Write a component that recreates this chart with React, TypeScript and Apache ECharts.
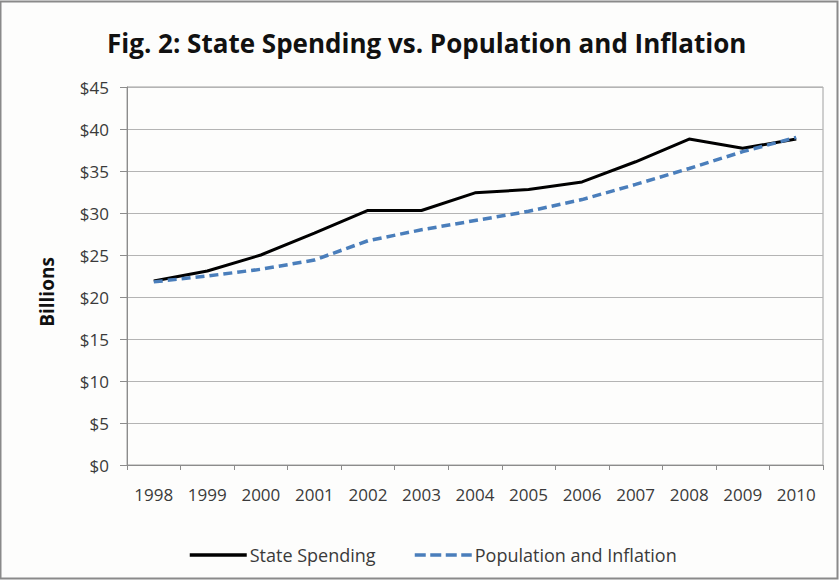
import React, { useEffect, useRef } from "react";
import * as echarts from "echarts";

const years = ["1998", "1999", "2000", "2001", "2002", "2003", "2004", "2005", "2006", "2007", "2008", "2009", "2010"];
const stateSpending = [21.9, 23.1, 25.0, 27.6, 30.3, 30.3, 32.4, 32.8, 33.7, 36.1, 38.8, 37.7, 38.8];
const popInflation = [21.8, 22.5, 23.3, 24.4, 26.7, 28.0, 29.1, 30.2, 31.6, 33.4, 35.3, 37.3, 39.0];
const seriesNames = ["State Spending", "Population and Inflation"];
const titleText = "Fig. 2: State Spending vs. Population and Inflation";
const yAxisTitle = "Billions";

const FONT = "'Open Sans', 'Noto Sans', sans-serif";
const TEXT = "#3a3a3a";

export default function App() {
  const ref = useRef<HTMLDivElement>(null);
  useEffect(() => {
    document.body.style.margin = "0";
    const chart = echarts.init(ref.current!, undefined, { renderer: "svg" });
    const legendBase = {
      top: 541,
      itemWidth: 57,
      itemHeight: 14,
      itemStyle: { opacity: 0, borderWidth: 0 },
      textStyle: { fontFamily: FONT, fontSize: 18, color: TEXT, padding: [0, 0, 0, -2] },
    };
    chart.setOption({
      animation: false,
      backgroundColor: "#fdfdfc",
      textStyle: { fontFamily: FONT },
      title: {
        text: titleText,
        left: 102,
        top: 25,
        textStyle: { fontFamily: FONT, fontSize: 26, fontWeight: "bold", color: "#111" },
      },
      legend: [
        { ...legendBase, left: 183, lineStyle: { width: 3.5 }, data: [seriesNames[0]] },
        { ...legendBase, left: 408, lineStyle: { width: 3.5, type: [11, 4.5] }, data: [seriesNames[1]] },
      ],
      grid: {
        left: 127,
        right: 16,
        top: 87,
        bottom: 115,
        show: true,
        borderColor: "#a0a0a0",
        borderWidth: 1,
      },
      xAxis: {
        type: "category",
        data: years,
        boundaryGap: true,
        axisLine: { lineStyle: { color: "#8c8c8c" } },
        axisTick: { show: true, length: 5, inside: false, lineStyle: { color: "#8c8c8c" } },
        axisLabel: { fontFamily: FONT, fontSize: 17, color: TEXT, margin: 21 },
      },
      yAxis: {
        type: "value",
        min: 0,
        max: 45,
        interval: 5,
        axisLine: { show: true, lineStyle: { color: "#8c8c8c" } },
        axisTick: { show: true, length: 7, lineStyle: { color: "#8c8c8c" } },
        axisLabel: { fontFamily: FONT, fontSize: 17, color: TEXT, margin: 18, formatter: "${value}" },
        splitLine: { show: true, lineStyle: { color: "#b4b4b4", width: 1 } },
      },
      graphic: [
        {
          type: "rect",
          shape: { x: 0.5, y: 1.5, width: 837, height: 577 },
          style: { fill: "none", stroke: "#8a8a8a", lineWidth: 2 },
          silent: true,
        },
        {
          type: "text",
          x: 47,
          y: 292,
          rotation: Math.PI / 2,
          style: {
            text: yAxisTitle,
            fontFamily: FONT,
            fontSize: 19,
            fontWeight: "bold",
            fill: "#111",
            align: "center",
            verticalAlign: "middle",
          },
        },
      ],
      series: [
        {
          name: seriesNames[0],
          type: "line",
          data: stateSpending,
          symbol: "none",
          lineStyle: { color: "#000", width: 3 },
          itemStyle: { color: "#000" },
        },
        {
          name: seriesNames[1],
          type: "line",
          data: popInflation,
          symbol: "none",
          lineStyle: { color: "#4a7ebb", width: 3.5, type: [9, 5] },
          itemStyle: { color: "#4a7ebb" },
        },
      ],
    });
    return () => chart.dispose();
  }, []);
  return <div ref={ref} style={{ position: "fixed", left: 0, top: 0, width: 839, height: 580 }} />;
}
